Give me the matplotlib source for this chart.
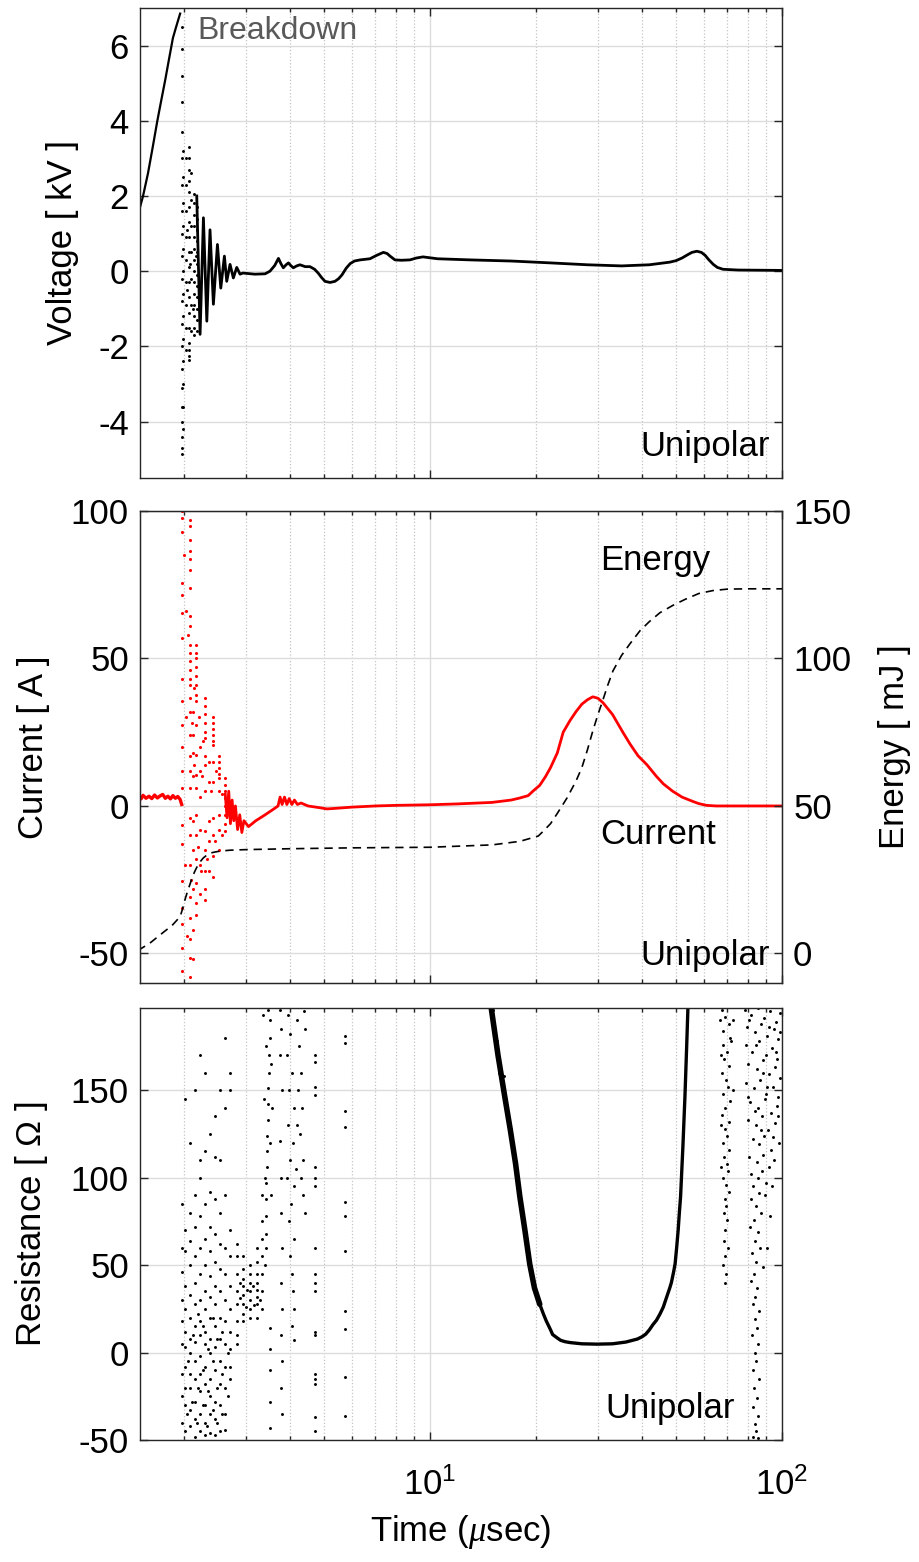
import numpy as np
import matplotlib
matplotlib.use("Agg")
import matplotlib.pyplot as plt
from matplotlib.ticker import LogLocator, NullFormatter, FixedLocator

plt.rcParams['font.family'] = ['Liberation Sans', 'DejaVu Sans']
plt.rcParams['mathtext.fontset'] = 'custom'
plt.rcParams['mathtext.rm'] = 'Liberation Sans'
plt.rcParams['mathtext.it'] = 'Liberation Serif:italic'
plt.rcParams['mathtext.default'] = 'regular'
plt.rcParams['axes.unicode_minus'] = False

FS = 25
INK = '#262626'

# ---------------- voltage panel ----------------
rise_t = [1.48, 1.53, 1.58, 1.63, 1.68, 1.72, 1.77, 1.81, 1.86, 1.90, 1.95]
rise_v = [1.5, 2.0, 2.6, 3.3, 4.0, 4.5, 5.1, 5.6, 6.2, 6.5, 6.85]

ring_t = [2.174, 2.222, 2.271, 2.322, 2.371, 2.424, 2.489, 2.544, 2.605, 2.645, 2.703, 2.762,
          2.824, 2.886, 2.94, 3.18, 3.40, 3.51, 3.62, 3.71, 3.77, 3.83, 3.90, 3.96, 4.02, 4.09,
          4.18, 4.27, 4.42, 4.56, 4.70, 4.81, 4.92, 5.03, 5.2, 5.37, 5.5, 5.62, 5.78, 5.93, 6.1,
          6.33, 6.75, 7.05, 7.37, 7.55, 7.70, 7.95, 8.3, 8.77, 9.15, 9.55, 10.5, 13, 17, 22,
          28, 35, 42, 48, 50, 52, 54, 55.5, 57.3, 59, 60.5, 62, 63.8, 65.5, 68, 75, 100]
ring_v = [2.0, -1.68, 1.42, -1.33, 1.1, -0.88, 0.71, -0.45, 0.4, -0.27, 0.18, -0.18,
          0.1, -0.08, -0.05, -0.08, -0.07, 0.0, 0.15, 0.34, 0.2, 0.09, 0.17, 0.22, 0.15, 0.09,
          0.14, 0.17, 0.12, 0.12, 0.05, -0.05, -0.17, -0.27, -0.3, -0.27, -0.2, -0.1, 0.08, 0.2,
          0.27, 0.3, 0.33, 0.42, 0.5, 0.47, 0.4, 0.3, 0.29, 0.3, 0.35, 0.38, 0.33, 0.3, 0.27, 0.22,
          0.17, 0.14, 0.17, 0.24, 0.28, 0.35, 0.44, 0.5, 0.53, 0.5, 0.42, 0.3, 0.18, 0.1, 0.05, 0.03,
          0.02]

volt_dots = [
    (1.975, 6.5), (1.975, 5.9), (1.975, 5.2), (1.975, 4.5), (1.975, 3.7), (1.975, 3.0),
    (1.975, 2.3), (1.975, 1.6), (1.975, 1.0), (1.975, 0.4), (1.975, -0.2), (1.975, -0.8),
    (1.975, -1.4), (1.975, -2.0), (1.975, -2.6), (1.975, -3.1), (1.975, -3.6), (1.975, -4.0),
    (1.975, -4.4), (1.975, -4.7), (1.975, -4.85),
    (1.99, 3.2), (1.99, 2.5), (1.99, 1.8), (1.99, 1.2), (1.99, 0.6), (1.99, 0.0), (1.99, -0.6),
    (1.99, -1.2), (1.99, -1.8), (1.99, -2.4), (1.99, -3.0), (1.99, -3.6), (1.99, -4.2),
    (2.02, 3.0), (2.02, 2.3), (2.02, 1.6), (2.02, 0.9), (2.02, 0.3), (2.02, -0.3), (2.02, -0.9),
    (2.02, -1.5), (2.02, -2.1),
    (2.06, 3.3), (2.06, 3.0), (2.06, 2.7), (2.06, 2.4), (2.06, 2.1), (2.06, 1.7), (2.06, 1.3),
    (2.06, 0.9), (2.06, 0.5), (2.06, 0.1), (2.06, -0.3), (2.06, -0.7), (2.06, -1.1), (2.06, -1.5),
    (2.06, -1.9), (2.06, -2.1), (2.06, -2.25), (2.06, -2.35),
    (2.10, 2.6), (2.10, 1.9), (2.10, 1.2), (2.10, 0.5), (2.10, -0.2), (2.10, -0.9), (2.10, -1.6),
    (2.14, 2.05), (2.14, 1.8), (2.14, 1.5), (2.14, 1.2), (2.14, 0.9), (2.14, 0.6), (2.14, 0.3),
    (2.14, 0.0), (2.14, -0.3), (2.14, -0.6), (2.14, -0.9), (2.14, -1.2), (2.14, -1.5), (2.14, -1.7),
    (2.18, 1.7), (2.18, 1.4), (2.18, 1.1), (2.18, 0.8), (2.18, 0.5), (2.18, 0.2), (2.18, -0.1),
    (2.18, -0.4), (2.18, -0.7), (2.18, -1.0), (2.18, -1.3), (2.18, -1.6),
    (2.04, 1.1), (2.04, -0.5), (2.08, 0.2), (2.12, -1.0), (2.16, 0.4), (2.20, -0.6),
]

# ---------------- current / energy panel ----------------
cur_pre_t = [1.48, 1.51, 1.53, 1.56, 1.59, 1.62, 1.65, 1.68, 1.71, 1.74, 1.77, 1.80, 1.83,
             1.86, 1.89, 1.92, 1.95, 1.97]
cur_pre_v = [3.2, 2.4, 3.6, 2.6, 3.3, 2.5, 3.7, 2.7, 3.4, 3.9, 2.6, 3.3, 2.4, 3.5, 2.6, 3.2,
             2.2, 0.5]

cur_t = [2.62, 2.65, 2.68, 2.71, 2.74, 2.77, 2.80, 2.84, 2.88, 2.92, 2.96, 3.05, 3.2, 3.4, 3.6,
         3.7, 3.75, 3.8, 3.86, 3.92, 3.98, 4.05, 4.12, 4.2, 4.3, 4.5, 4.8, 5.1, 5.4, 6, 7, 8, 10,
         12, 15, 17, 18, 19, 19.6, 20.5, 21.3, 22, 23, 23.9, 25, 26, 27, 28, 29, 30, 31, 33,
         35.3, 37, 39, 41.3, 44, 46, 48.9, 52, 55.9, 58, 61, 65, 70, 100]
cur_v = [4, -4, 5, -6, 2, -5, 0, -8, -3, -9, -5, -7, -5, -3, -1,
         0, 3, 0.5, 3, 0.5, 2.5, 0.5, 2, 0.5, 1, 0, -0.5, -1, -0.8, -0.4, 0, 0.2, 0.4,
         0.7, 1.2, 2, 2.7, 3.5, 5, 7, 10, 13, 18, 25, 29, 32, 34.5, 36, 37, 36.5, 35, 31,
         25, 21, 17, 14, 10, 7.5, 5, 3, 1.5, 0.8, 0.2, 0, 0, 0]

cur_dots = [
    (1.98, 100), (1.98, 97.7), (1.98, 93), (1.98, 75.7), (1.98, 71.6), (1.98, 65.5), (1.98, 57),
    (1.98, 43), (1.98, 35.6), (1.98, 27.5), (1.98, 20), (1.98, 12), (1.98, 6), (1.98, -6.4),
    (1.98, -13), (1.98, -25.5), (1.98, -34.6), (1.98, -40), (1.98, -48), (1.98, -56),
    (2.075, 97), (2.075, 95), (2.075, 90), (2.075, 86.5), (2.075, 83.6), (2.075, 80), (2.075, 74),
    (2.075, 64.5), (2.075, 61), (2.075, 54.6), (2.075, 52), (2.075, 49), (2.075, 46), (2.075, 43),
    (2.075, 41), (2.075, 36.6), (2.075, 32), (2.075, 24), (2.075, 17), (2.075, 12), (2.075, 6),
    (2.075, -4), (2.075, -10), (2.075, -20), (2.075, -31), (2.075, -38), (2.075, -45),
    (2.075, -51.6), (2.075, -58),
    (2.12, 32), (2.12, 24), (2.12, 18), (2.12, 10), (2.12, -5), (2.12, -15), (2.12, -28),
    (2.12, -42), (2.12, -52),
    (2.17, 54.6), (2.17, 52), (2.17, 50), (2.17, 47), (2.17, 44), (2.17, 41), (2.17, 37.6),
    (2.17, 35.6), (2.17, 27.5), (2.17, 17.3), (2.17, 10.5), (2.17, 6), (2.17, -3), (2.17, -10),
    (2.17, -18), (2.17, -26), (2.17, -33), (2.17, -37),
    (2.22, 20), (2.22, 12), (2.22, 3), (2.22, -8), (2.22, -20), (2.22, -30),
    (2.29, 36.6), (2.29, 34), (2.29, 31), (2.29, 28), (2.29, 25), (2.29, 23), (2.29, 17),
    (2.29, 14), (2.29, 5), (2.29, -8.5), (2.29, -15), (2.29, -22), (2.29, -28), (2.29, -32),
    (2.35, 15), (2.35, 8), (2.35, -5), (2.35, -12), (2.35, -22),
    (2.42, 30), (2.42, 28), (2.42, 26), (2.42, 24), (2.42, 22), (2.42, 20.7), (2.42, 15),
    (2.42, 8), (2.42, -4), (2.42, -10), (2.42, -17), (2.42, -24),
    (2.52, 17), (2.52, 15), (2.52, 13), (2.52, 11), (2.52, 9.5), (2.52, 5), (2.52, -3),
    (2.52, -8), (2.52, -15),
    (2.62, 9.5), (2.62, 7), (2.62, 5), (2.62, 2.7), (2.62, 0), (2.62, -3), (2.62, -6), (2.62, -8.5),
    (2.00, 85), (2.03, 66), (2.05, 58), (2.11, 28), (2.14, 40), (2.20, 30), (2.25, 10),
    (2.01, -20), (2.03, 30), (2.04, -44), (2.10, -25), (2.14, 14), (2.19, -14), (2.24, -22),
    (2.26, 22), (2.32, -18), (2.38, 5), (2.45, -12), (2.47, 12), (2.57, 4), (2.57, -10),
]

energy_t = [1.48, 1.6, 1.74, 1.85, 1.90, 1.95, 1.98, 2.01, 2.04, 2.08, 2.11, 2.14, 2.17, 2.22,
            2.27, 2.32, 2.37, 2.45, 2.54, 2.7, 3.0, 4, 6, 10, 15, 18, 20.3, 21, 22, 23, 24.5, 26,
            27, 28, 29, 30, 31, 32, 33.1, 35, 37, 39.5, 42, 45, 49, 53, 58, 63.6, 70, 80, 100]
energy_v = [1, 3.5, 7, 9.5, 11, 12.5, 15, 18, 20.5, 23.5, 25.6, 27.5, 29, 31,
            32.4, 33.3, 34, 34.4, 34.7, 35, 35.2, 35.5, 35.8, 36, 36.8, 38, 39.8, 41.5, 44, 47.5,
            52.7, 58.5, 63, 69, 75.4, 81, 86, 91, 95.8, 101, 105, 109.4, 112.5, 115.5, 118, 120,
            122, 123, 123.5, 123.6, 123.6]

# ---------------- resistance panel ----------------
res_left_t = [14.9, 15.6, 16.3, 16.9, 17.5, 18.0, 18.6, 19.2, 19.8, 20.5]
res_left_r = [198, 170, 146.5, 127.6, 108, 89, 70, 50.6, 37, 27.6]

res_u_t = [20.5, 21.0, 21.4, 22.0, 22.3, 23.0, 23.5, 24.2, 25, 27, 29.8, 33, 36, 38.8, 40, 41,
           42, 43, 44, 45, 46, 47, 48, 48.5, 49.2, 49.7, 50.2, 50.7, 51.1, 51.5, 52.3, 53.0,
           53.6, 54.1]
res_u_r = [27.6, 22, 18, 13, 10.3, 8.3, 7, 6.2, 5.7, 5, 4.8, 5, 6, 7.7, 9, 10.5,
           13, 16, 18.5, 22, 26, 31.6, 37, 40, 46, 50.8, 60, 70, 80, 89, 118, 146.5,
           175, 200]

res_early = [
    (1.97, -40), (1.97, -25), (1.97, -12), (1.97, 5), (1.97, 18), (1.97, 30), (1.97, 46),
    (1.97, 60), (1.97, 85),
    (2.01, -45), (2.01, -30), (2.01, -20), (2.01, -8), (2.01, 3), (2.01, 12), (2.01, 25),
    (2.01, 38), (2.01, 58), (2.01, 70), (2.01, 145),
    (2.08, -42), (2.08, -33), (2.08, -20), (2.08, -12), (2.08, 0), (2.08, 8), (2.08, 20),
    (2.08, 33), (2.08, 50), (2.08, 64), (2.08, 80), (2.08, 120),
    (2.15, -48), (2.15, -38), (2.15, -28), (2.15, -15), (2.15, -5), (2.15, 6), (2.15, 15),
    (2.15, 28), (2.15, 40), (2.15, 55), (2.15, 72), (2.15, 90), (2.15, 150),
    (2.22, -45), (2.22, -35), (2.22, -22), (2.22, -12), (2.22, -2), (2.22, 10), (2.22, 18),
    (2.22, 30), (2.22, 45), (2.22, 60), (2.22, 78), (2.22, 100), (2.22, 110), (2.22, 170),
    (2.30, -47), (2.30, -40), (2.30, -30), (2.30, -18), (2.30, -8), (2.30, 5), (2.30, 12),
    (2.30, 25), (2.30, 35), (2.30, 50), (2.30, 65), (2.30, 85), (2.30, 115), (2.30, 160),
    (2.37, -46), (2.37, -35), (2.37, -25), (2.37, -15), (2.37, 0), (2.37, 8), (2.37, 20),
    (2.37, 32), (2.37, 44), (2.37, 58), (2.37, 72), (2.37, 92), (2.37, 125),
    (2.45, -47), (2.45, -38), (2.45, -28), (2.45, -10), (2.45, 3), (2.45, 15), (2.45, 28),
    (2.45, 38), (2.45, 52), (2.45, 68), (2.45, 88), (2.45, 112), (2.45, 135),
    (2.53, -45), (2.53, -30), (2.53, -18), (2.53, -5), (2.53, 8), (2.53, 20), (2.53, 35),
    (2.53, 48), (2.53, 62), (2.53, 80), (2.53, 110), (2.53, 150),
    (2.62, -44), (2.62, -35), (2.62, -20), (2.62, -8), (2.62, 5), (2.62, 18), (2.62, 30),
    (2.62, 45), (2.62, 60), (2.62, 90), (2.62, 140), (2.62, 180),
    (2.70, -15), (2.70, -8), (2.70, 2), (2.70, 12), (2.70, 25), (2.70, 38), (2.70, 55),
    (2.70, 70), (2.70, 150), (2.70, 160),
    (2.04, -35), (2.05, -5), (2.11, -28), (2.12, 10), (2.18, -40), (2.19, -20), (2.19, 22),
    (2.26, -30), (2.26, -10), (2.27, 15), (2.33, -42), (2.34, -22), (2.34, 2), (2.41, -33),
    (2.41, -5), (2.41, 20), (2.49, -40), (2.49, -20), (2.49, 8), (2.57, -35), (2.57, -12),
    (2.57, 12), (2.66, -25), (2.66, 0),
    (2.82, 5), (2.82, 10), (2.82, 18), (2.82, 28), (2.82, 35), (2.82, 45), (2.82, 55), (2.82, 62),
    (2.95, 18), (2.95, 22), (2.95, 28), (2.95, 33), (2.95, 38), (2.95, 42), (2.95, 48), (2.95, 55),
    (3.08, 20), (3.08, 25), (3.08, 30), (3.08, 35), (3.08, 40), (3.08, 45), (3.08, 50),
    (3.22, 20), (3.22, 28), (3.22, 32), (3.22, 36), (3.22, 40), (3.22, 45), (3.22, 52), (3.22, 60),
    (3.33, 25), (3.33, 35), (3.33, 45), (3.33, 55), (3.33, 65), (3.33, 75), (3.33, 90),
    (2.88, 31), (3.01, 26), (3.15, 38), (3.28, 30), (2.89, 40), (3.02, 36), (3.16, 27),
]

res_mid = [
    (3.40, 50), (3.41, 60), (3.42, 68), (3.42, 78), (3.43, 88), (3.43, 97), (3.44, 106),
    (3.45, 115), (3.45, 124), (3.46, 133), (3.47, 142), (3.47, 151), (3.48, 160), (3.49, 170),
    (3.50, 180), (3.51, 190), (3.38, 145), (3.42, 175), (3.53, 165), (3.47, 196), (3.36, 193),
    (3.55, 140), (3.52, 120), (3.39, 100), (3.53, 90), (3.50, 14), (3.50, 2), (3.51, -10),
    (3.50, -28), (3.51, -43),
    (3.76, 196), (3.78, 185), (3.75, 170), (3.80, 150), (3.76, 121), (3.78, 100), (3.77, 80),
    (3.80, 60), (3.78, 40), (3.79, 25), (3.77, 10), (3.80, -5), (3.78, -20), (3.79, -35),
    (3.95, 193), (4.0, 182), (3.92, 170), (4.05, 160), (3.98, 150), (4.1, 140), (3.95, 130),
    (4.08, 120), (4.0, 110), (3.93, 100), (4.12, 95), (4.03, 85), (3.97, 75), (4.1, 65),
    (4.0, 55), (4.05, 45), (4.08, 35), (4.1, 25), (4.06, 15), (4.1, 7), (4.2, 190), (4.25, 175),
    (4.3, 160), (4.22, 150), (4.33, 140), (4.28, 125), (4.35, 110), (4.3, 100), (4.4, 185),
    (4.38, 195), (4.36, 90), (4.42, 80), (4.18, 130), (4.15, 105),
    (4.7, 198), (4.7, 170), (4.7, 166), (4.7, 152), (4.7, 147), (4.7, 106), (4.7, 100),
    (4.7, 95), (4.7, 60), (4.7, 45), (4.7, 40), (4.7, 35), (4.7, 12), (4.7, 10), (4.7, -12),
    (4.7, -15), (4.7, -18), (4.7, -37), (4.7, -45),
    (5.73, 181), (5.73, 177), (5.73, 138), (5.73, 129), (5.73, 86), (5.73, 78), (5.73, 58),
    (5.73, 24), (5.73, 13.5), (5.73, -14), (5.73, -36),
]

res_branch = [
    (15.1, 196), (15.3, 185), (15.5, 178), (15.8, 165), (16.0, 150), (16.2, 158), (16.5, 138),
    (16.7, 131), (17.1, 118), (17.3, 112), (17.7, 100), (17.9, 94), (18.3, 80), (18.8, 65),
    (19.0, 58), (15.0, 188), (15.7, 160), (16.4, 145), (17.0, 128),
]

res_late = [
    (67.5, 196), (69.0, 192), (70.5, 188), (68.2, 184), (71.0, 180), (67.8, 176), (69.8, 172),
    (68.6, 168), (70.8, 164), (67.4, 160), (69.3, 156), (70.2, 152), (68.0, 148), (71.3, 144),
    (69.0, 140), (67.7, 136), (70.5, 132), (68.8, 128), (69.9, 124), (67.9, 120), (70.9, 116),
    (68.4, 112), (69.6, 108), (70.3, 104), (68.1, 100), (69.2, 96), (70.7, 92), (68.7, 88),
    (69.5, 84), (68.3, 80), (70.0, 76), (69.1, 70), (68.5, 64), (70.4, 60), (69.0, 55),
    (68.2, 50), (69.4, 45), (68.9, 40), (72.5, 150), (71.8, 178), (72.8, 190), (66.9, 170),
    (67.1, 130), (66.8, 190), (67.3, 106),
    (78.3, 196), (81.7, 193), (85.2, 197), (88.9, 191), (92.4, 195), (96.1, 189), (99.0, 194),
    (79.6, 186), (83.9, 183), (87.1, 188), (90.7, 181), (94.8, 185), (97.7, 179),
    (78.8, 176), (82.4, 172), (86.3, 178), (89.8, 170), (93.6, 174), (96.9, 168),
    (80.2, 165), (84.7, 162), (88.1, 167), (91.9, 159), (95.3, 163), (98.4, 157),
    (79.1, 154), (83.2, 151), (86.8, 156), (90.3, 148), (94.1, 152), (97.2, 146),
    (81.3, 143), (85.6, 140), (89.4, 145), (92.8, 137), (96.5, 141),
    (80.0, 133), (84.1, 130), (87.7, 135), (91.2, 127), (95.7, 131),
    (82.6, 122), (86.0, 119), (89.1, 124), (93.3, 116), (97.9, 120),
    (80.7, 112), (84.9, 109), (88.5, 113), (91.6, 106), (94.9, 110),
    (81.9, 102), (85.3, 100), (87.9, 104), (90.1, 97),
    (82.8, 95), (85.9, 91), (81.4, 88), (84.2, 84), (87.3, 80), (83.1, 76), (80.9, 72),
    (85.7, 69), (83.8, 64), (86.6, 60), (82.2, 57), (84.6, 52), (88.2, 49), (83.4, 45),
    (81.8, 41), (85.1, 37), (84.0, 32), (82.7, 28), (86.2, 24), (83.6, 19), (84.8, 14),
    (82.3, 10), (85.4, 5), (83.9, 0), (84.3, -5), (82.9, -10), (85.8, -15), (83.3, -20),
    (84.7, -26), (82.6, -31), (85.2, -36), (83.7, -41), (84.4, -45), (82.9, -48), (85.6, -49),
    (89.7, 90), (92.5, 78), (90.8, 60), (93.9, 95),
    (80.4, 190), (84.4, 176), (88.4, 160), (92.1, 186), (95.9, 172), (98.8, 183),
    (79.9, 146), (83.6, 138), (87.4, 127), (90.9, 152), (94.4, 123), (97.5, 135),
]

fig = plt.figure(figsize=(9.2, 15.62), dpi=100)
ax1 = fig.add_axes([0.1522, 0.6940, 0.6978, 0.3009])
ax2 = fig.add_axes([0.1522, 0.3707, 0.6978, 0.3022])
ax3 = fig.add_axes([0.1522, 0.0781, 0.6978, 0.2766])


def style_axes(ax, show_xlabels):
    ax.set_xscale('log')
    ax.set_xlim(1.5, 100)
    ax.xaxis.set_major_locator(FixedLocator([10, 100]))
    ax.xaxis.set_minor_locator(LogLocator(base=10, subs=np.arange(2, 10), numticks=20))
    ax.xaxis.set_minor_formatter(NullFormatter())
    ax.grid(True, which='major', axis='both', color='#dcdcdc', lw=1.0)
    ax.grid(True, which='minor', axis='x', color='#c4c4c4', lw=0.9, ls=':')
    ax.set_axisbelow(True)
    ax.tick_params(which='both', direction='in', top=True, right=True, colors=INK,
                   labelcolor='black', labelsize=FS, width=1.0)
    ax.tick_params(which='major', length=6, pad=8)
    ax.tick_params(which='minor', length=3)
    ax.tick_params(axis='x', pad=20)
    if not show_xlabels:
        ax.tick_params(axis='x', labelbottom=False)
    for s in ax.spines.values():
        s.set_color(INK)
        s.set_linewidth(1.0)


for ax in (ax1, ax2, ax3):
    style_axes(ax, ax is ax3)

# voltage
ax1.plot(rise_t, rise_v, color='black', lw=1.6)
ax1.plot(ring_t, ring_v, color='black', lw=2.0)
vd = np.array(volt_dots)
ax1.scatter(vd[:, 0], vd[:, 1], s=4.5, color='black', lw=0)
ax1.set_ylim(-5.5, 7)
ax1.set_yticks([-4, -2, 0, 2, 4, 6])
ax1.set_ylabel('Voltage [ kV ]', fontsize=FS)
ax1.yaxis.set_label_coords(-0.095, 0.5)
ax1.text(2.19, 6.38, 'Breakdown', fontsize=23, color='#595959', ha='left', va='center')
ax1.text(0.981, 0.066, 'Unipolar', transform=ax1.transAxes, fontsize=FS, ha='right', va='center')

# current and energy
ax2e = ax2.twinx()
ax2e.set_xscale('log')
ax2e.set_xlim(1.5, 100)
ax2e.plot(energy_t, energy_v, color='black', lw=1.2, ls=(0, (5, 3.5)))
ax2e.set_ylim(-10, 150)
ax2e.set_yticks([0, 50, 100, 150])
ax2e.tick_params(direction='in', length=6, width=1.0, colors=INK, labelcolor='black',
                 labelsize=FS, pad=8)
ax2e.set_ylabel('Energy [ mJ ]', fontsize=FS)
ax2e.yaxis.set_label_coords(1.15, 0.5)
for s in ax2e.spines.values():
    s.set_color(INK)

ax2.plot(cur_pre_t, cur_pre_v, color='red', lw=2.4)
ax2.plot(cur_t, cur_v, color='red', lw=2.0)
cd = np.array(cur_dots)
ax2.scatter(cd[:, 0], cd[:, 1], s=5, color='red', lw=0)
ax2.set_ylim(-60, 100)
ax2.set_yticks([-50, 0, 50, 100])
ax2.tick_params(axis='y', right=False)
ax2.set_ylabel('Current [ A ]', fontsize=FS)
ax2.yaxis.set_label_coords(-0.14, 0.5)
ax2.text(0.7165, 0.896, 'Energy', transform=ax2.transAxes, fontsize=FS, ha='left', va='center')
ax2.text(0.7165, 0.3136, 'Current', transform=ax2.transAxes, fontsize=FS, ha='left', va='center')
ax2.text(0.981, 0.059, 'Unipolar', transform=ax2.transAxes, fontsize=FS, ha='right', va='center')

# resistance
ax3.plot(res_left_t, res_left_r, color='black', lw=4.0, solid_capstyle='round')
ax3.plot(res_u_t, res_u_r, color='black', lw=2.4)
for pts in (res_early, res_mid, res_branch, res_late):
    p = np.array(pts)
    ax3.scatter(p[:, 0], p[:, 1], s=4.5, color='black', lw=0)
ax3.set_ylim(-50, 197)
ax3.set_yticks([-50, 0, 50, 100, 150])
ax3.set_ylabel('Resistance [ $\\Omega$ ]', fontsize=FS)
ax3.yaxis.set_label_coords(-0.14, 0.5)
ax3.set_xlabel('Time ($\\mathit{\\mu}$sec)', fontsize=FS, labelpad=8)
ax3.text(0.927, 0.074, 'Unipolar', transform=ax3.transAxes, fontsize=FS, ha='right', va='center')

fig.savefig('out.png', dpi=100)
